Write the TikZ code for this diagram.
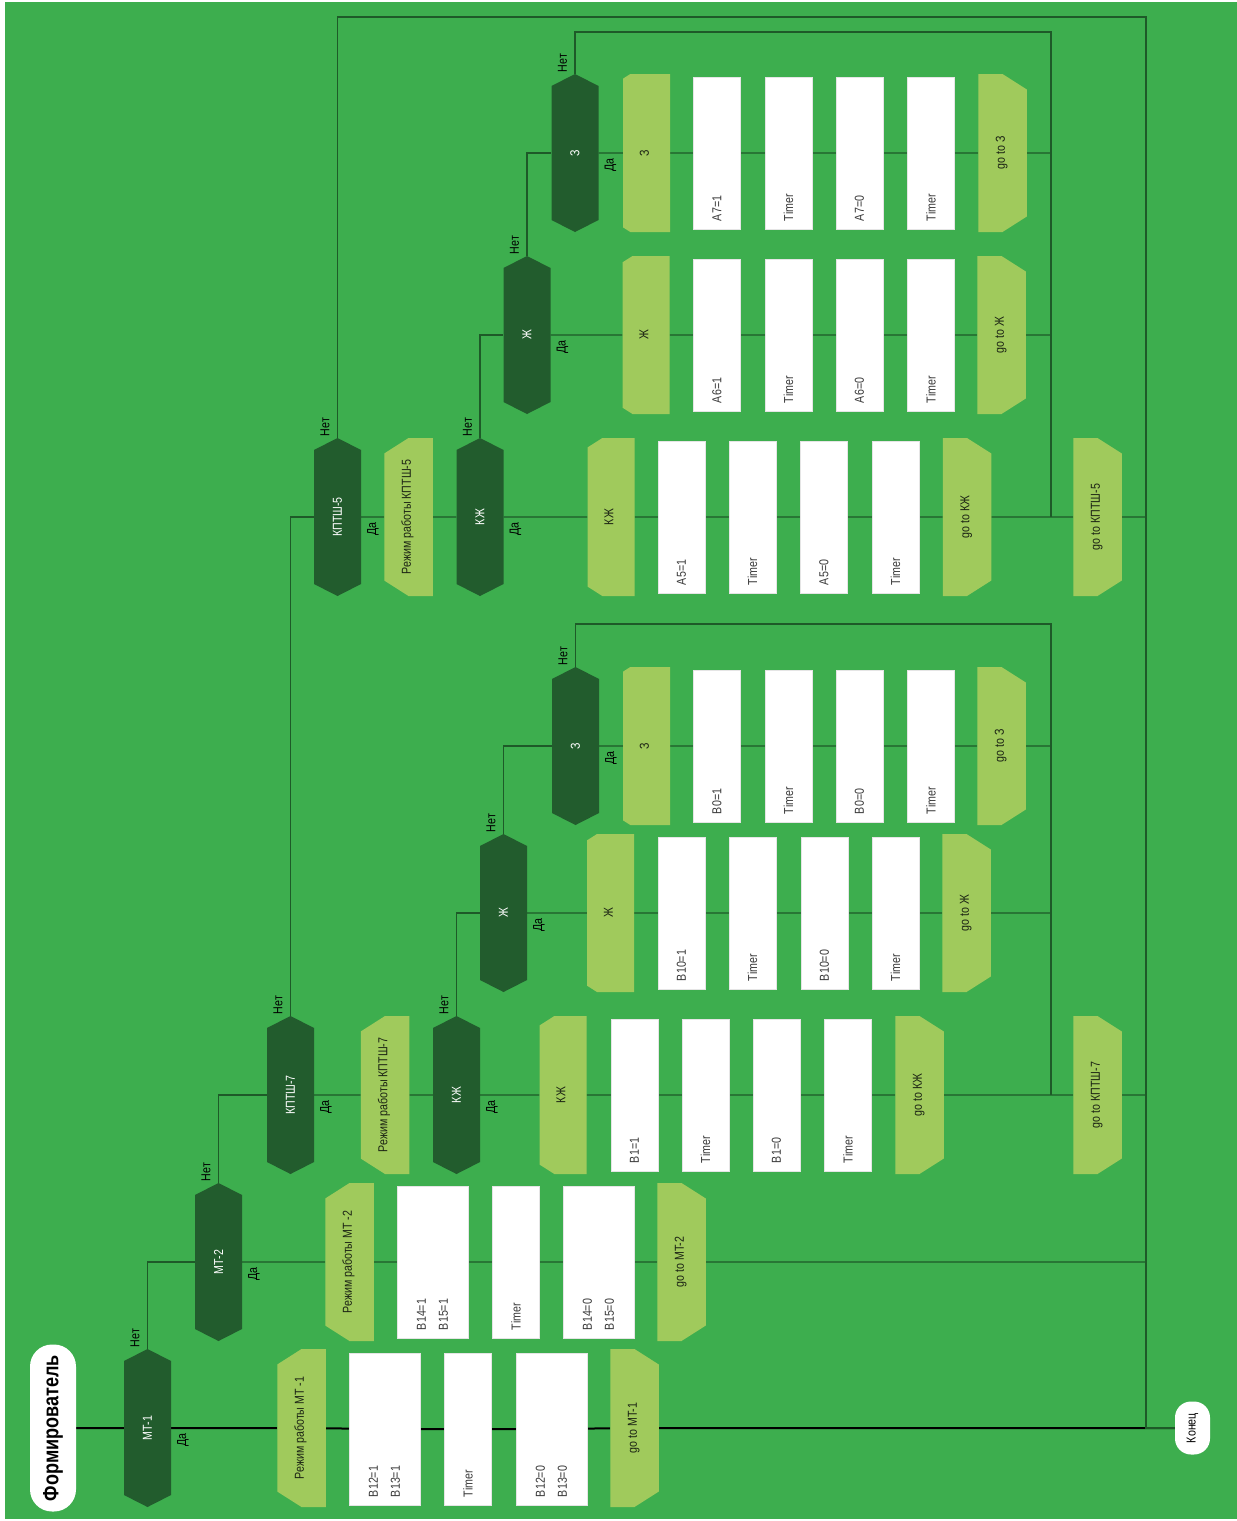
\documentclass[tikz,border=0pt]{standalone}
\usepackage{fontspec}
\setmainfont{Liberation Sans}[FakeStretch=0.82]
\usepackage{tikz}
\usetikzlibrary{shapes.symbols,shapes.misc,backgrounds}
\definecolor{field}{HTML}{3DAE4E}
\definecolor{askfill}{HTML}{225C2D}
\definecolor{headfill}{HTML}{A0CA5C}
\definecolor{wirec}{HTML}{1E5A28}
\definecolor{ink}{HTML}{1C2414}
\definecolor{boxink}{HTML}{3A3A3A}
\tikzset{
  every node/.style={font=\fontsize{13}{15}\selectfont},
  ask/.style={signal, signal to=east and west, signal pointer angle=126, fill=askfill, text=white,
    minimum width=158, minimum height=47, inner sep=0pt, rotate=90},
  plate/.style={chamfered rectangle, chamfered rectangle angle=32.5, chamfered rectangle xsep=14,
    chamfered rectangle ysep=22, fill=headfill, text=ink, minimum width=158, minimum height=47,
    inner sep=0pt, text height=4.5pt, text depth=-4.5pt, rotate=90},
  head/.style={plate, chamfered rectangle corners={north west,north east}},
  tail/.style={plate, chamfered rectangle corners={south west,south east}},
  act/.style={fill=white, draw=black!10, text=boxink, minimum height=47, minimum width=152,
    text width=136, inner xsep=8, inner ysep=0, align=left, rotate=90},
  act2/.style={act, minimum height=71, font=\fontsize{13}{22}\selectfont},
  term/.style={fill=white, text=black, inner sep=0pt, rotate=90},
  yes/.style={rotate=90, text=black, inner sep=0pt},
  wire/.style={draw=wirec, line width=1.2},
  mainwire/.style={draw=black, line width=2},
}
\begin{document}
\begin{tikzpicture}[x=1pt,y=-1pt]
  \useasboundingbox (0,0) rectangle (1237,1521);
  % start and end
  \node[term, minimum width=167, minimum height=46, rounded corners=22,
        font=\fontsize{22}{24}\selectfont\bfseries] (start) at (53,1428) {Формирователь};
  \node[term, minimum width=53, minimum height=35, rounded corners=16] (end) at (1192.5,1428) {Конец};
  % branch MT-1
  \node[ask]  (mt1)  at (147.5,1428) {МТ-1};
  \node[head] (mt1h) at (301.5,1428) {Режим работы МТ -1};
  \node[act2] (mt1a) at (384.5,1429) {B12=1\\B13=1};
  \node[act]  (mt1b) at (468,1429)   {Timer};
  \node[act2] (mt1c) at (551.5,1429) {B12=0\\B13=0};
  \node[tail] (mt1g) at (634.5,1428) {go to MT-1};
  % branch MT-2
  \node[ask]  (mt2)  at (218.5,1262) {МТ-2};
  \node[head] (mt2h) at (349.5,1262) {Режим работы МТ -2};
  \node[act2] (mt2a) at (432.5,1262) {B14=1\\B15=1};
  \node[act]  (mt2b) at (516,1262)   {Timer};
  \node[act2] (mt2c) at (598.5,1262) {B14=0\\B15=0};
  \node[tail] (mt2g) at (681.5,1262) {go to MT-2};
  % branch KPTSh-7
  \node[ask]  (k7)   at (290.5,1095) {КПТШ-7};
  \node[head] (k7h)  at (385,1095)   {Режим работы КПТШ-7};
  \node[ask]  (kz7)  at (456.5,1095) {КЖ};
  \node[head] (kz7h) at (563,1095)   {КЖ};
  \node[act]  (kz7a) at (634.5,1095) {B1=1};
  \node[act]  (kz7b) at (705.5,1095) {Timer};
  \node[act]  (kz7c) at (776.5,1095) {B1=0};
  \node[act]  (kz7d) at (848,1095)   {Timer};
  \node[tail] (kz7g) at (919.5,1095) {go to КЖ};
  \node[tail] (k7g)  at (1097.5,1095) {go to КПТШ-7};
  \node[ask]  (zh7)  at (503.5,913)  {Ж};
  \node[head] (zh7h) at (610.5,913)  {Ж};
  \node[act]  (zh7a) at (681.5,913)  {B10=1};
  \node[act]  (zh7b) at (752.5,913)  {Timer};
  \node[act]  (zh7c) at (824.5,913)  {B10=0};
  \node[act]  (zh7d) at (895.5,913)  {Timer};
  \node[tail] (zh7g) at (966.5,913)  {go to Ж};
  \node[ask]  (z7)   at (575.5,746)  {З};
  \node[head] (z7h)  at (646.5,746)  {З};
  \node[act]  (z7a)  at (717,746)    {B0=1};
  \node[act]  (z7b)  at (788.5,746)  {Timer};
  \node[act]  (z7c)  at (859.5,746)  {B0=0};
  \node[act]  (z7d)  at (931,746)    {Timer};
  \node[tail] (z7g)  at (1001.5,746) {go to З};
  % branch KPTSh-5
  \node[ask]  (k5)   at (337.5,517)  {КПТШ-5};
  \node[head] (k5h)  at (408.5,517)  {Режим работы КПТШ-5};
  \node[ask]  (kz5)  at (480,517)    {КЖ};
  \node[head] (kz5h) at (611,517)    {КЖ};
  \node[act]  (kz5a) at (681.5,517)  {A5=1};
  \node[act]  (kz5b) at (752.5,517)  {Timer};
  \node[act]  (kz5c) at (824,517)    {A5=0};
  \node[act]  (kz5d) at (895.5,517)  {Timer};
  \node[tail] (kz5g) at (967,517)    {go to КЖ};
  \node[tail] (k5g)  at (1097.5,517) {go to КПТШ-5};
  \node[ask]  (zh5)  at (527,335)    {Ж};
  \node[head] (zh5h) at (646,335)    {Ж};
  \node[act]  (zh5a) at (717,335)    {A6=1};
  \node[act]  (zh5b) at (788.5,335)  {Timer};
  \node[act]  (zh5c) at (859.5,335)  {A6=0};
  \node[act]  (zh5d) at (931,335)    {Timer};
  \node[tail] (zh5g) at (1001.5,335) {go to Ж};
  \node[ask]  (z5)   at (575,153)    {З};
  \node[head] (z5h)  at (646.5,153)  {З};
  \node[act]  (z5a)  at (717,153)    {A7=1};
  \node[act]  (z5b)  at (788.5,153)  {Timer};
  \node[act]  (z5c)  at (859.5,153)  {A7=0};
  \node[act]  (z5d)  at (931,153)    {Timer};
  \node[tail] (z5g)  at (1002.5,153) {go to З};
  % yes / no labels
  \foreach \q in {mt1,mt2,k7,kz7,zh7,z7,k5,kz5,zh5,z5} {
    \node[yes] (\q-yes) at ([shift={(35.5,12)}]\q.center) {Да};
    \node[yes] (\q-no)  at ([shift={(-12.5,-90)}]\q.center) {Нет};
  }
  \coordinate (rim)   at (1146,17);
  \coordinate (loopa) at (1051,32);
  \coordinate (loopb) at (1051,624);
  \begin{scope}[on background layer]
    \fill[field] (5,2) rectangle (1237,1519);
    \draw[mainwire] (start) -- (mt1) -- (mt1h) -- (mt1a) -- (mt1b) -- (mt1c) -- (mt1g) -- (end);
    \draw[wire] (mt1) |- (mt2);
    \draw[wire] (mt2) -- (mt2h) -- (mt2a) -- (mt2b) -- (mt2c) -- (mt2g) -- (mt2g -| rim);
    \draw[wire] (mt2) |- (k7);
    \draw[wire] (k7) -- (k7h) -- (kz7) -- (kz7h) -- (kz7a) -- (kz7b) -- (kz7c) -- (kz7d) -- (kz7g) -- (k7g) -- (k7g -| rim);
    \draw[wire] (kz7) |- (zh7);
    \draw[wire] (zh7) -- (zh7h) -- (zh7a) -- (zh7b) -- (zh7c) -- (zh7d) -- (zh7g) -- (zh7g -| loopb);
    \draw[wire] (zh7) |- (z7);
    \draw[wire] (z7) -- (z7h) -- (z7a) -- (z7b) -- (z7c) -- (z7d) -- (z7g) -- (z7g -| loopb);
    \draw[wire] (z7) |- (loopb) -- (loopb |- k7g);
    \draw[wire] (k7) |- (k5);
    \draw[wire] (k5) -- (k5h) -- (kz5) -- (kz5h) -- (kz5a) -- (kz5b) -- (kz5c) -- (kz5d) -- (kz5g) -- (k5g) -- (k5g -| rim);
    \draw[wire] (kz5) |- (zh5);
    \draw[wire] (zh5) -- (zh5h) -- (zh5a) -- (zh5b) -- (zh5c) -- (zh5d) -- (zh5g) -- (zh5g -| loopa);
    \draw[wire] (zh5) |- (z5);
    \draw[wire] (z5) -- (z5h) -- (z5a) -- (z5b) -- (z5c) -- (z5d) -- (z5g) -- (z5g -| loopa);
    \draw[wire] (z5) |- (loopa) -- (loopa |- k5g);
    \draw[wire, line width=1.6] (k5) |- (rim) |- (end);
  \end{scope}
\end{tikzpicture}
\end{document}
